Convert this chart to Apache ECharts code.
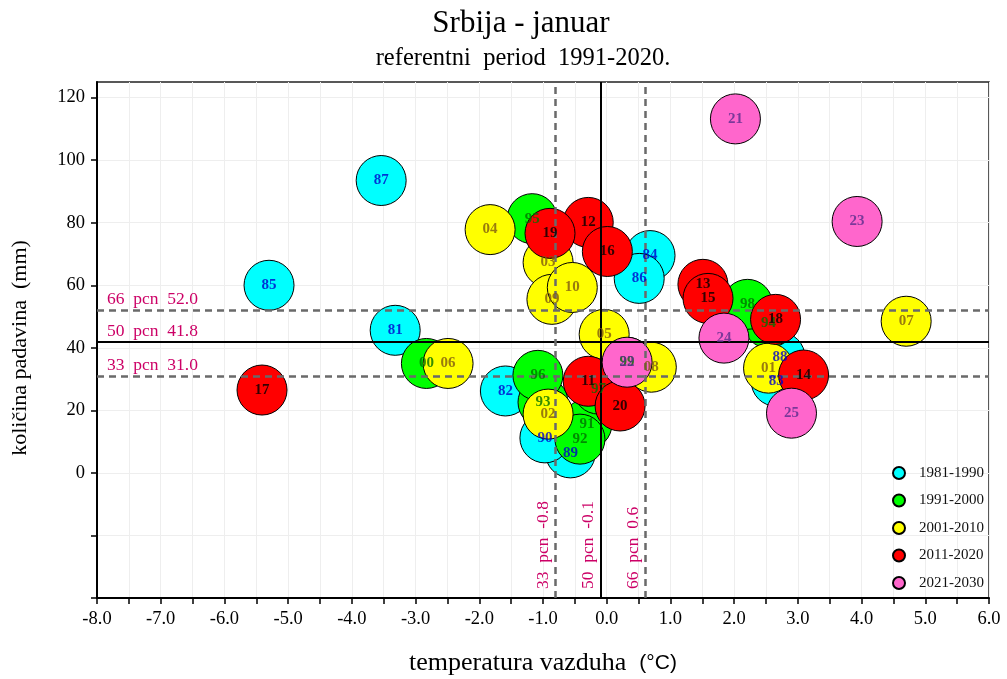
<!DOCTYPE html>
<html>
<head>
<meta charset="utf-8">
<title>Srbija - januar</title>
<script src="https://cdn.jsdelivr.net/npm/echarts@6/dist/echarts.min.js"></script>
<style>
  html, body { margin: 0; padding: 0; background: #fff; }
  #chart { width: 1007px; height: 679px; }
</style>
</head>
<body>
<div id="chart"></div>
<script>
// Januarska temperatura (odstupanje, °C) i količina padavina (mm) po godinama
const decades = ['1981-1990', '1991-2000', '2001-2010', '2011-2020', '2021-2030'];

const years80 = ['81', '82', '83', '84', '85', '86', '87', '88', '89', '90'];
const temp80  = [-3.32, -1.59, 2.66, 0.68, -5.30, 0.51, -3.54, 2.72, -0.57, -0.97];
const prec80  = [45.6, 26.2, 29.3, 69.5, 60.0, 62.2, 93.5, 37.0, 6.4, 11.2];

const years90 = ['91', '92', '93', '94', '95', '96', '97', '98', '99', '00'];
const temp90  = [-0.31, -0.42, -1.00, 2.54, -1.17, -1.08, -0.13, 2.21, 0.32, -2.83];
const prec90  = [15.6, 10.8, 22.6, 47.9, 81.3, 31.2, 26.8, 53.9, 35.4, 35.0];

const years00 = ['01', '02', '03', '04', '05', '06', '07', '08', '09', '10'];
const temp00  = [2.54, -0.92, -0.92, -1.83, -0.04, -2.49, 4.70, 0.70, -0.86, -0.54];
const prec00  = [33.5, 18.8, 67.3, 77.8, 44.3, 35.0, 48.5, 33.8, 55.5, 59.3];

const years10 = ['11', '12', '13', '14', '15', '16', '17', '18', '19', '20'];
const temp10  = [-0.29, -0.29, 1.51, 3.09, 1.59, 0.01, -5.41, 2.65, -0.89, 0.21];
const prec10  = [29.3, 80.1, 60.3, 31.3, 55.8, 70.8, 26.5, 49.1, 76.6, 21.4];

const years20 = ['21', '22', '23', '24', '25'];
const temp20  = [2.02, 0.32, 3.93, 1.84, 2.90];
const prec20  = [113.2, 35.4, 80.4, 43.1, 19.1];

// Percentili referentnog perioda 1991-2020.
const precPcn = [{ name: '33', value: 31.0 }, { name: '50', value: 41.8 }, { name: '66', value: 52.0 }];
const tempPcn = [{ name: '33', value: -0.8 }, { name: '50', value: -0.1 }, { name: '66', value: 0.6 }];

const xTicks = { min: -8, max: 6, step: 0.5 };
const yTicks = { min: -40, max: 125, step: 20 };

const fillColors = ['#00FFFF', '#00FF00', '#FFFF00', '#FF0000', '#FF66CC'];
const textColors = ['#0000CC', '#007000', '#7F5A10', '#000000', '#5A2D8C'];

const groups = [
  [years80, temp80, prec80],
  [years90, temp90, prec90],
  [years00, temp00, prec00],
  [years10, temp10, prec10],
  [years20, temp20, prec20]
];

const SERIF = '"Liberation Serif", "Times New Roman", "DejaVu Serif", serif';
const PCN = '#CC0066';

function points(g) {
  return g[0].map(function (y, k) { return [g[1][k], g[2][k], y]; });
}

// Krugovi po dekadama
const bubbleSeries = groups.map(function (g, i) {
  return {
    name: decades[i],
    type: 'scatter',
    symbol: 'circle',
    symbolSize: 50,
    z: 2,
    itemStyle: { color: fillColors[i], borderColor: '#000', borderWidth: 1, opacity: 1 },
    label: { show: false },
    emphasis: { disabled: true },
    data: points(g)
  };
});

// Oznake godina, iznad svih krugova; novije dekade na vrhu
const labelSeries = groups.map(function (g, i) {
  return {
    name: decades[i] + ' godine',
    type: 'scatter',
    symbol: 'circle',
    symbolSize: 50,
    z: 5 + i,
    silent: true,
    itemStyle: { color: 'rgba(0,0,0,0)', borderWidth: 0 },
    label: {
      show: true,
      position: 'inside',
      formatter: function (p) { return p.data[2]; },
      color: textColors[i],
      fontFamily: SERIF,
      fontWeight: 'bold',
      fontSize: 15
    },
    emphasis: { disabled: true },
    data: points(g)
  };
});

function pcnText(p, v) { return p + '  pcn  ' + v.toFixed(1); }

function pcnLineStyle(p) {
  return p.name === '50'
    ? { color: '#000', width: 2, type: 'solid' }
    : { color: '#6a6a6a', width: 2.5, type: [7, 5] };
}

const refLines = {
  type: 'scatter',
  name: 'pcn',
  data: [],
  z: 4,
  silent: true,
  markLine: {
    silent: true,
    symbol: ['none', 'none'],
    animation: false,
    data: precPcn.map(function (p) {
      return {
        yAxis: p.value,
        lineStyle: pcnLineStyle(p),
        label: {
          show: true, position: 'insideStartTop', formatter: pcnText(p.name, p.value),
          color: PCN, fontFamily: SERIF, fontSize: 17.5, distance: [10, 2]
        }
      };
    }).concat(tempPcn.map(function (p) {
      return {
        xAxis: p.value,
        lineStyle: pcnLineStyle(p),
        label: {
          show: true, position: 'insideStartTop', formatter: pcnText(p.name, p.value),
          color: PCN, fontFamily: SERIF, fontSize: 17.5, distance: [9, 3]
        }
      };
    }))
  }
};

const chart = echarts.init(document.getElementById('chart'), null, { renderer: 'canvas' });

chart.setOption({
  animation: false,
  backgroundColor: '#fff',
  grid: {
    left: 97, right: 18, top: 82, bottom: 81,
    show: true, borderColor: '#222', borderWidth: 1.5, backgroundColor: 'transparent'
  },
  legend: {
    data: decades,
    orient: 'vertical',
    left: 887,
    top: 460,
    itemWidth: 12,
    itemHeight: 12,
    itemGap: 11.5,
    icon: 'circle',
    selectedMode: false,
    textStyle: { fontFamily: SERIF, fontSize: 15, color: '#111', lineHeight: 16, padding: [0, 0, 0, 9] }
  },
  xAxis: {
    type: 'value',
    min: xTicks.min, max: xTicks.max, interval: xTicks.step,
    axisLine: { show: true, onZero: false, lineStyle: { color: '#000', width: 2 } },
    axisTick: { show: true, length: 6, lineStyle: { color: '#000', width: 1.5 } },
    splitLine: { show: true, lineStyle: { color: '#eeeeee', width: 1 } },
    axisLabel: {
      color: '#000', fontFamily: SERIF, fontSize: 18.5, margin: 12,
      formatter: function (v) { return Number.isInteger(v) ? v.toFixed(1) : ''; }
    }
  },
  yAxis: {
    type: 'value',
    min: yTicks.min, max: yTicks.max, interval: yTicks.step,
    axisLine: { show: true, onZero: false, lineStyle: { color: '#000', width: 2 } },
    axisTick: {
      show: true, length: 6, lineStyle: { color: '#000', width: 1.5 },
      customValues: [-40, -20, 0, 20, 40, 60, 80, 100, 120]
    },
    splitLine: { show: true, lineStyle: { color: '#eeeeee', width: 1 } },
    axisLabel: {
      color: '#000', fontFamily: SERIF, fontSize: 18.5, margin: 12,
      formatter: function (v) { return (v >= 0 && v % 20 === 0) ? String(v) : ''; }
    }
  },
  graphic: [
    {
      type: 'text', x: 521, y: 24,
      style: { text: 'Srbija - januar', font: '31px ' + SERIF, fill: '#000', align: 'center', verticalAlign: 'middle' }
    },
    {
      type: 'text', x: 523, y: 59,
      style: { text: 'referentni  period  1991-2020.', font: '24.5px ' + SERIF, fill: '#000', align: 'center', verticalAlign: 'middle' }
    },
    {
      type: 'text', x: 20, y: 348, rotation: Math.PI / 2,
      style: { text: 'količina padavina  (mm)', font: '22px ' + SERIF, fill: '#000', align: 'center', verticalAlign: 'middle' }
    },
    {
      type: 'text', x: 543, y: 663,
      style: {
        text: 'temperatura vazduha  {u|(°C)}', font: '26px ' + SERIF, fill: '#000', align: 'center', verticalAlign: 'middle',
        rich: { u: { fontFamily: '"Liberation Sans", Arial, sans-serif', fontSize: 21, fill: '#000' } }
      }
    }
  ],
  series: bubbleSeries.concat([refLines]).concat(labelSeries)
});
</script>
</body>
</html>
